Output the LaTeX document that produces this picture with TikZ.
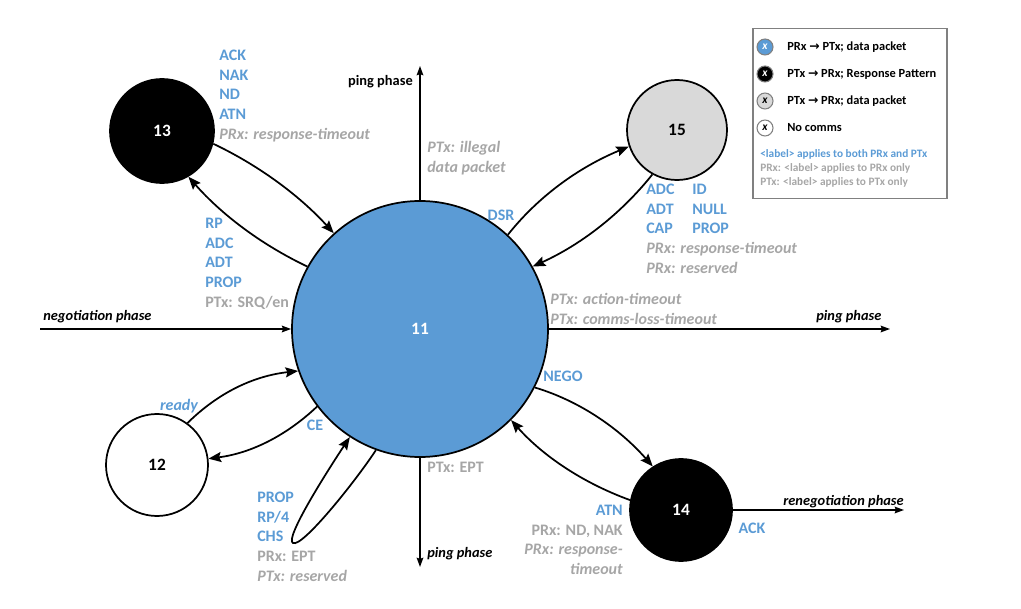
\documentclass[tikz,border=0pt]{standalone}
\usepackage{fontspec}
\setmainfont{Carlito}
\newfontfamily\djv{DejaVu Sans}
\usetikzlibrary{arrows.meta}
\definecolor{cblue}{HTML}{5B9BD5}
\definecolor{cgray}{HTML}{A6A6A6}
\definecolor{lgray}{HTML}{D9D9D9}
\begin{document}
\begin{tikzpicture}[x=0.75pt,y=-0.75pt,
  state/.style={circle,draw=black,line width=1.3pt,inner sep=0pt,font=\fontsize{13}{15}\selectfont\bfseries},
  arr/.style={line width=1.3pt,-{Stealth[length=9.5pt,width=7.5pt,inset=1.5pt]}},
  axisarrow/.style={line width=1.1pt,-{Stealth[length=7pt,width=5pt,inset=1pt]}},
  lbl/.style={font=\fontsize{12}{14.7}\selectfont\bfseries,inner sep=0pt,text=cblue},
  phase/.style={font=\fontsize{10.8}{12}\selectfont\bfseries,inner sep=0pt},
  legc/.style={circle,draw=gray,line width=0.8pt,minimum size=12pt,inner sep=0pt,font=\fontsize{8.5}{9}\selectfont\bfseries\itshape},
  legt/.style={font=\fontsize{9.3}{11}\selectfont\bfseries,inner sep=0pt,anchor=west},
  legs/.style={font=\fontsize{8.5}{10}\selectfont\bfseries,inner sep=0pt,anchor=west},
  gr/.style={text=cgray}
]
\useasboundingbox (0,0) rectangle (1021,609);

% states
\node[state,fill=cblue,minimum size=192pt,text=white] (n11) at (420,329) {11};
\node[state,fill=black,minimum size=78pt,text=white] (n13) at (162,131) {13};
\node[state,fill=lgray,minimum size=75pt] (n15) at (677,130) {15};
\node[state,fill=white,minimum size=76.5pt] (n12) at (157,465) {12};
\node[state,fill=black,minimum size=76.5pt,text=white] (n14) at (681,510) {14};

% phase axes
\coordinate (negS) at (40,329);
\coordinate (pingT) at (420,66);
\coordinate (pingR) at (890,329);
\coordinate (pingB) at (420,567);
\coordinate (reneg) at (904,510);
\draw[axisarrow] (negS) -- (n11.west);
\draw[axisarrow] (n11.north) -- (pingT);
\draw[axisarrow] (n11.east) -- (pingR);
\draw[axisarrow] (n11.south) -- (pingB);
\draw[axisarrow] (n14.east) -- (reneg);

\node[phase,anchor=base west] (tneg) at (43,321) {\itshape negotiation phase};
\node[phase,anchor=base east] (tpingT) at (413,86) {ping phase};
\node[phase,anchor=base west] (tpingR) at (816,321) {\itshape ping phase};
\node[phase,anchor=base west] (tpingB) at (427,557) {\itshape ping phase};
\node[phase,anchor=base west] (treneg) at (783,505) {\itshape renegotiation phase};

% transitions
\draw[arr] (n13.346) .. controls (258,165) and (299,195) .. (n11.132);
\draw[arr] (n11.151) .. controls (262,245) and (222,215) .. (n13.300);
\draw[arr] (n11.47) .. controls (537,198) and (577,168) .. (n15.199);
\draw[arr] (n15.241) .. controls (620,215) and (580,245) .. (n11.29);
\draw[arr] (n12.54) .. controls (218,393) and (253,376) .. (n11.199);
\draw[arr] (n11.217) .. controls (287,435) and (252,453) .. (n12.7);
\draw[arr] (n11.333) .. controls (580,401) and (620,429) .. (n14.123);
\draw[arr] (n14.169) .. controls (583,483) and (543,456) .. (n11.315);
\coordinate (loopTip) at (293,543);
\draw[arr] (n11.250) .. controls (355,482) and (302,548) .. (loopTip) .. controls (284,539) and (328,470) .. (n11.237);

% labels
\node[lbl,anchor=north west,align=left] (l13a) at (219,50) {ACK\\NAK\\ND\\ATN\\{\color{cgray}\itshape PRx: response-timeout}};
\node[lbl,anchor=north west,align=left] (l13b) at (205,218) {RP\\ADC\\ADT\\PROP\\{\color{cgray}PTx: SRQ/en}};
\node[lbl,gr,anchor=north west,align=left,font=\fontsize{12}{14.7}\selectfont\bfseries\itshape] (lill) at (427,141) {PTx: illegal\\data packet};
\node[lbl] (ldsr) at (501,215) {DSR};
\node[lbl,anchor=north west,align=left] (l15a) at (646,184) {ADC\\ADT\\CAP\\{\color{cgray}\itshape PRx: response-timeout}\\{\color{cgray}\itshape PRx: reserved}};
\node[lbl,anchor=north west,align=left] (l15b) at (692,184) {ID\\NULL\\PROP};
\node[lbl,gr,anchor=north west,align=left,font=\fontsize{12}{14.7}\selectfont\bfseries\itshape] (ltime) at (550,293) {PTx: action-timeout\\PTx: comms-loss-timeout};
\node[lbl,font=\fontsize{12}{14.7}\selectfont\bfseries\itshape] (lready) at (179,406) {ready};
\node[lbl] (lce) at (315,425) {CE};
\node[lbl,anchor=north west,align=left] (lloop) at (257,492) {PROP\\RP/4\\CHS\\{\color{cgray}PRx: EPT}\\{\color{cgray}\itshape PTx: reserved}};
\node[lbl] (lnego) at (563,376) {NEGO};
\node[lbl,gr,anchor=west] (lept) at (427,467) {PTx: EPT};
\node[lbl,anchor=north east,align=right] (l14) at (623,505) {ATN\\{\color{cgray}PRx: ND, NAK}\\{\color{cgray}\itshape PRx: response-}\\{\color{cgray}\itshape timeout}};
\node[lbl] (lack) at (752,528) {ACK};

% legend
\node[draw=gray,line width=0.8pt,minimum width=145.5pt,minimum height=127pt,inner sep=0pt] (leg) at (850,113.5) {};
\node[legc,fill=cblue,text=white] (lc1) at (765,47) {x};
\node[legc,fill=black,text=white] (lc2) at (765,74) {x};
\node[legc,fill=lgray] (lc3) at (765,101) {x};
\node[legc,fill=white] (lc4) at (765,128) {x};
\node[legt] (lt1) at (787,47) {PRx {\djv\bfseries →} PTx; data packet};
\node[legt] (lt2) at (787,74) {PTx {\djv\bfseries →} PRx; Response Pattern};
\node[legt] (lt3) at (787,101) {PTx {\djv\bfseries →} PRx; data packet};
\node[legt] (lt4) at (787,128) {No comms};
\node[legs,text=cblue] (ls1) at (760,154) {<label> applies to both PRx and PTx};
\node[legs,text=cgray] (ls2) at (760,168) {PRx: <label> applies to PRx only};
\node[legs,text=cgray] (ls3) at (760,182) {PTx: <label> applies to PTx only};
\end{tikzpicture}
\end{document}
